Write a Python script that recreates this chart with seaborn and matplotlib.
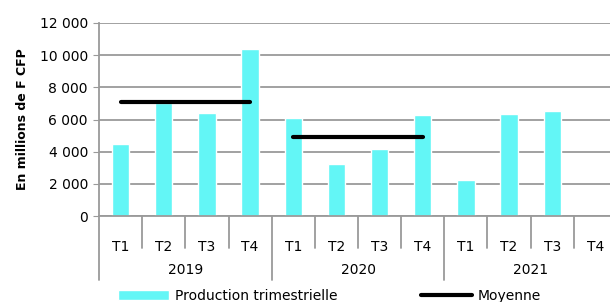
import numpy as np
import pandas as pd
import matplotlib.pyplot as plt
import seaborn as sns

# --- données ---
annees = ["2019", "2020", "2021"]
trimestres = ["T1", "T2", "T3", "T4"]
prod_2019 = [4500, 7000, 6420, 10370]
prod_2020 = [6090, 3210, 4170, 6280]
prod_2021 = [2240, 6320, 6510, np.nan]
moyenne = {"2019": 7060, "2020": 4940}

CYAN = "#63F6F6"
GRIS = "#9A9A9A"

df = pd.DataFrame({
    "annee": np.repeat(annees, len(trimestres)),
    "trim": trimestres * len(annees),
    "prod": prod_2019 + prod_2020 + prod_2021,
})
df["cat"] = df["annee"] + "-" + df["trim"]
ordre = list(df["cat"])

sns.set_style("white")
plt.rcParams["font.family"] = ["DejaVu Sans"]
plt.rcParams.update({"text.color": "black", "axes.labelcolor": "black",
                     "xtick.color": "black", "ytick.color": "black"})

fig = plt.figure(figsize=(6.10, 3.02), dpi=100)
ax = fig.add_axes([99 / 610, 86 / 302, 518 / 610, 193 / 302])

sns.barplot(data=df, x="cat", y="prod", order=ordre, color=CYAN,
            saturation=1, width=0.4, ax=ax, label="Production trimestrielle")

# lignes de moyenne annuelle (de T1 à T4)
for k, an in enumerate(annees):
    if an in moyenne:
        i0 = k * len(trimestres)
        ax.plot([i0, i0 + len(trimestres) - 1], [moyenne[an]] * 2, color="black",
                lw=3, solid_capstyle="round", label="Moyenne" if k == 0 else None)

ax.set_xlim(-0.5, len(ordre) - 0.5)
ax.set_ylim(0, 12000)
ax.set_yticks(range(0, 12001, 2000))
ax.set_yticklabels([f"{v:,}".replace(",", " ") for v in range(0, 12001, 2000)], fontsize=10)
ax.yaxis.grid(True, color=GRIS, lw=1.3)
ax.set_axisbelow(True)
ax.tick_params(axis="y", length=4, color=GRIS, left=True, pad=4)

ax.set_xticks(range(len(ordre)))
ax.set_xticklabels(df["trim"], fontsize=10)
ax.tick_params(axis="x", length=0, pad=17)
ax.set_xlabel("")
ax.set_ylabel("En millions de F CFP", fontsize=9, fontweight="bold", labelpad=8)

for s in ["top", "right"]:
    ax.spines[s].set_visible(False)
for s in ["left", "bottom"]:
    ax.spines[s].set_color(GRIS)
    ax.spines[s].set_linewidth(1.3)

# séparateurs des catégories à deux niveaux
trans = ax.get_xaxis_transform()
for i in range(len(ordre) + 1):
    bas = -0.33 if i % len(trimestres) == 0 else -0.166
    ax.plot([i - 0.5, i - 0.5], [0, bas], color=GRIS, lw=1.3,
            transform=trans, clip_on=False)
for k, an in enumerate(annees):
    centre = k * len(trimestres) + (len(trimestres) - 1) / 2
    ax.text(centre, -0.28, an, transform=trans, ha="center", va="center", fontsize=10)

h, l = ax.get_legend_handles_labels()
poignees = dict(zip(l, h))
noms = ["Production trimestrielle", "Moyenne"]
fig.legend([poignees[n] for n in noms], noms, loc="center", bbox_to_anchor=(0.54, 0.02),
           ncol=2, frameon=False, fontsize=10, handlelength=3.7, handletextpad=0.4,
           columnspacing=6, borderpad=0)
if ax.get_legend():
    ax.get_legend().remove()

fig.savefig("out.png", dpi=100)
